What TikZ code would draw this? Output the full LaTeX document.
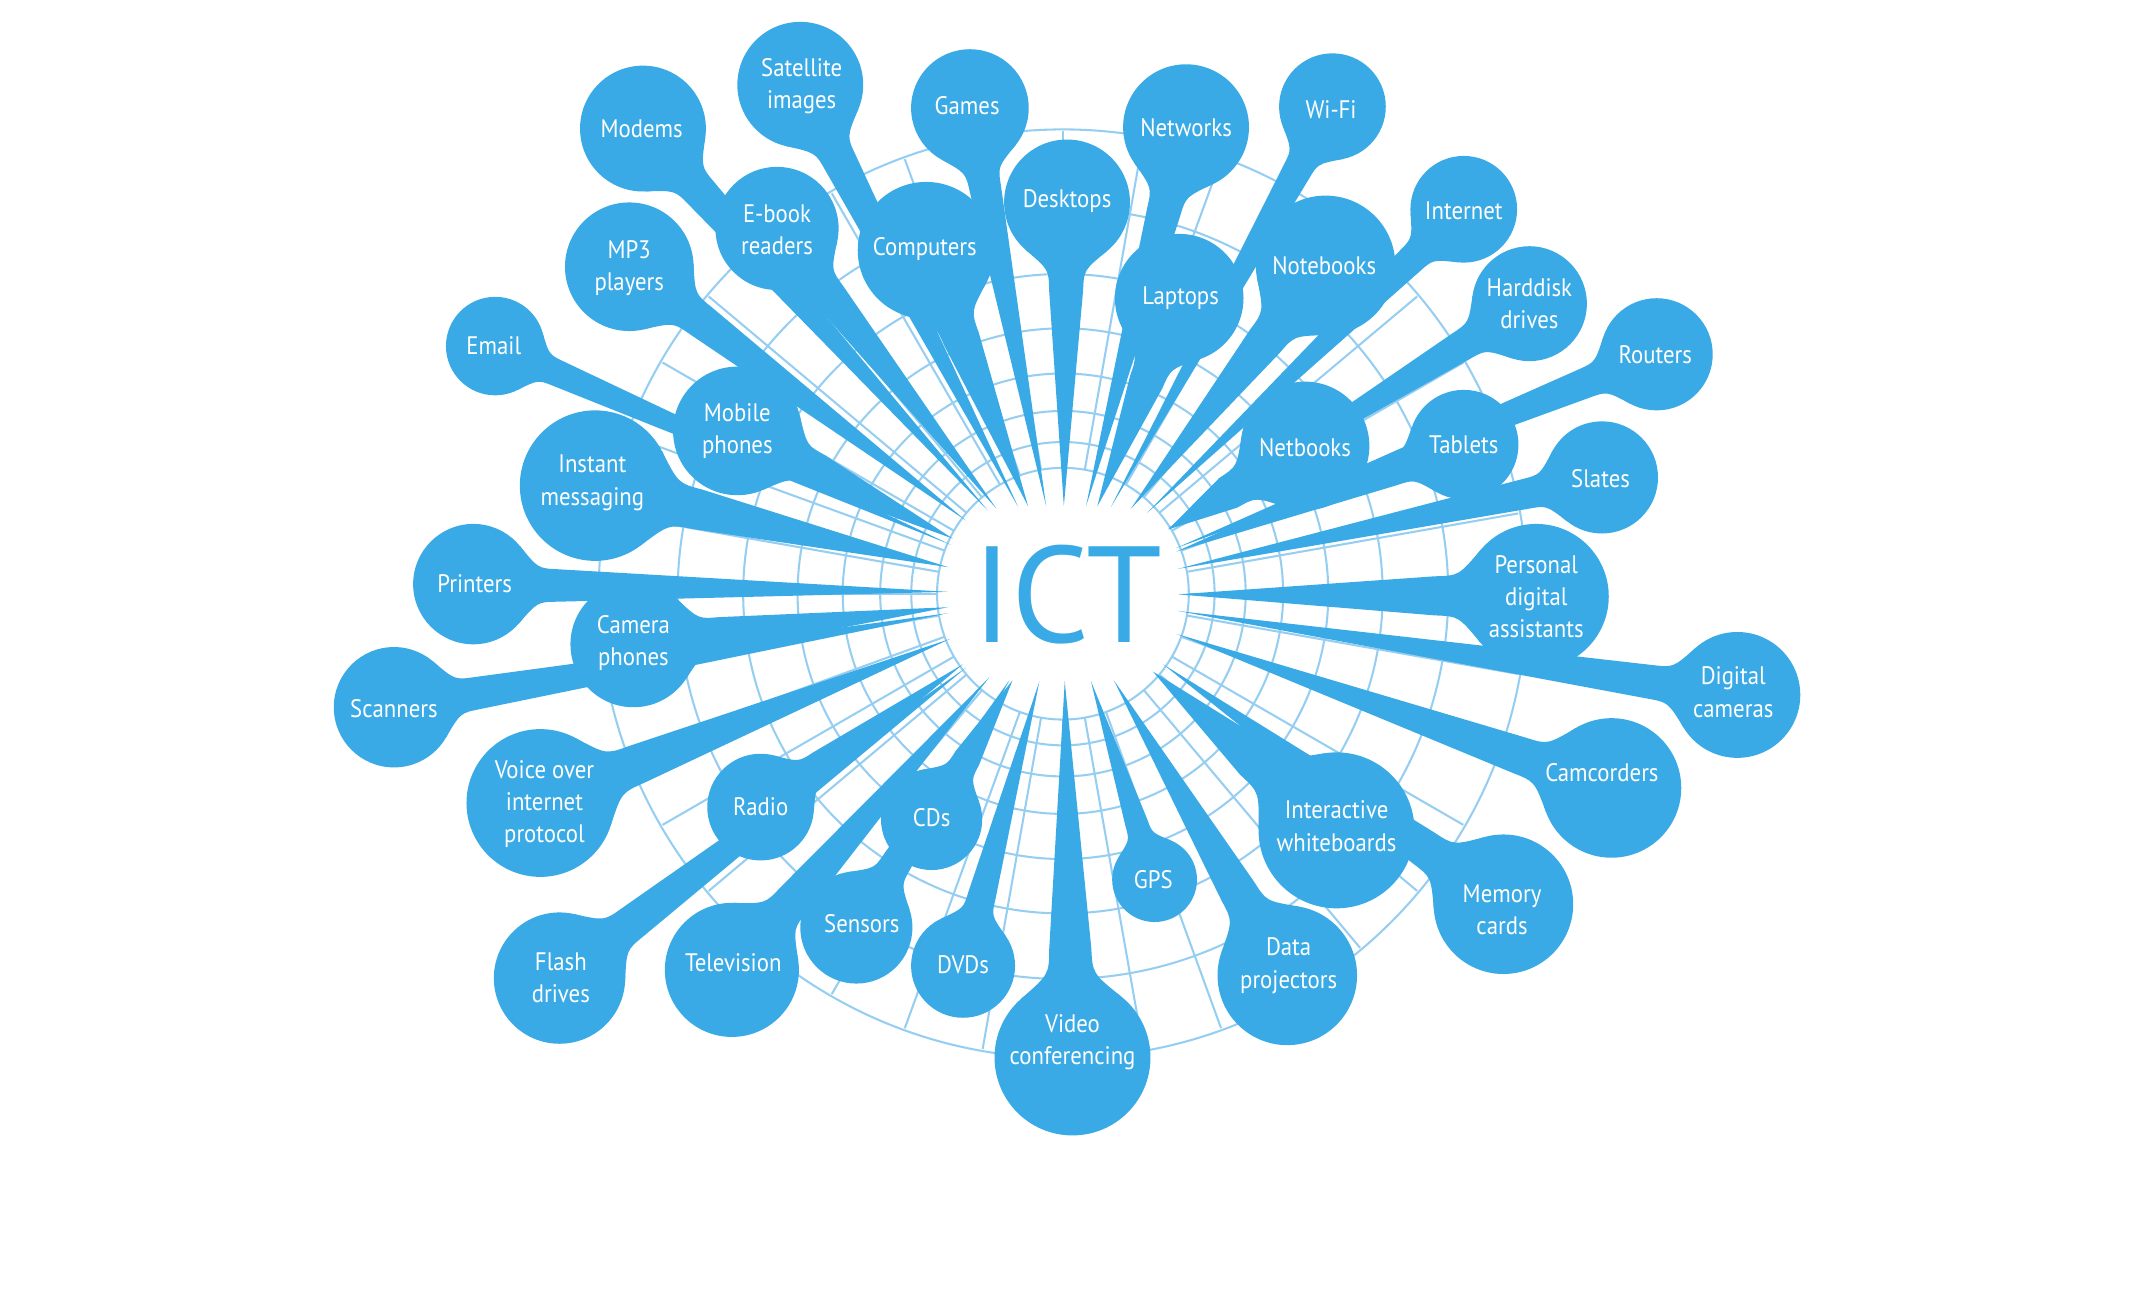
\documentclass[tikz,border=0pt]{standalone}
\usepackage{fontspec}
\setmainfont{PT Sans}
\newfontfamily\lblfont{PT Sans}[FakeStretch=0.9]
\usetikzlibrary{calc}
\definecolor{ictblue}{RGB}{58,170,230}
\definecolor{gridblue}{RGB}{150,206,242}
\pgfdeclarelayer{gridlayer}
\pgfdeclarelayer{spikelayer}
\pgfdeclarelayer{labellayer}
\pgfsetlayers{gridlayer,spikelayer,main,labellayer}
\tikzset{
  bubble/.style={circle, fill=ictblue, inner sep=0pt, outer sep=0pt},
  lbl/.style={text=white, align=center, inner sep=0pt, font=\lblfont\fontsize{18.5}{23.5}\selectfont},
  gridline/.style={draw=gridblue, line width=1.5pt},
  spikefill/.style={fill=ictblue},
  ictlabel/.style={text=ictblue, inner sep=0pt, font=\fontsize{100}{100}\selectfont}
}
\newcommand\spike[2]{%
  \pgfmathanglebetweenpoints{\pgfpointanchor{O}{center}}{\pgfpointanchor{#1}{center}}%
  \pgfmathsetmacro\spkang{\pgfmathresult}%
  \pgfmathsetmacro\spkrt{84/((abs(cos(\spkang)))^4+2.97*(abs(sin(\spkang)))^4)^0.25}%
  \pgfmathsetmacro\spka{#2}%
  \pgfmathsetmacro\spkb{1.107*#2}%
  \pgfmathsetmacro\spkc{1.426*#2}%
  \coordinate (#1-t) at ($(O)!\spkrt pt!(#1.center)$);%
  \begin{pgfonlayer}{spikelayer}%
  \fill[spikefill] ($(#1.center)!\spka pt!40:(#1-t)$) .. controls ($(#1.center)!\spkb pt!14.65:(#1-t)$) .. ($(#1.center)!\spkc pt!10.9:(#1-t)$) -- (#1-t) -- ($(#1.center)!\spkc pt!-10.9:(#1-t)$) .. controls ($(#1.center)!\spkb pt!-14.65:(#1-t)$) .. ($(#1.center)!\spka pt!-40:(#1-t)$) -- cycle;%
  \end{pgfonlayer}%
}
\newcommand\bub[7]{%
  \node[bubble, minimum size=#4*2pt] (#1) at (#2,{950-#3}) {};%
  \begin{pgfonlayer}{labellayer}%
  \node[lbl] (#1-l) at (#5,{950-#6}) {#7};%
  \end{pgfonlayer}%
  \spike{#1}{#4}%
}
\begin{document}
\begin{tikzpicture}[x=1pt,y=1pt]
\useasboundingbox (0,0) rectangle (1568,950);
\coordinate (O) at (777,516);
% background and polar grid
\begin{pgfonlayer}{gridlayer}
\fill[white] (0,0) rectangle (1568,950);
\foreach \k in {0,...,7}{
  \pgfmathsetmacro\rr{92*1.205^\k}
  \draw[gridline] (O) circle [radius=\rr pt];
}
\foreach \a in {0,10,...,350}{
  \draw[gridline] ($(O)+(\a:92pt)$) -- ($(O)+(\a:338pt)$);
}
\end{pgfonlayer}
\node[ictlabel] (ict) at (780,515) {ICT};
% bubbles: name, x, y(down), r, label x, label y(down), text
\bub{mod}{470}{94}{46}{469}{94}{Modems}
\bub{sat}{585}{62}{46}{586}{63}{Satellite\\images}
\bub{gam}{709}{79}{43}{707}{77}{Games}
\bub{net}{867}{93}{46}{867}{93}{Networks}
\bub{wif}{974}{78}{39}{973}{80}{Wi-Fi}
\bub{ebk}{568}{167}{45}{568}{168}{E-book\\readers}
\bub{cmp}{677}{183}{50}{676}{182}{Computers}
\bub{dsk}{780}{148}{46}{780}{147}{Desktops}
\bub{lap}{862}{218}{47}{863}{218}{Laptops}
\bub{ntb}{969}{194}{51}{968}{194}{Notebooks}
\bub{int}{1070}{153}{39}{1070}{154}{Internet}
\bub{hdd}{1118}{222}{42}{1118}{222}{Harddisk\\drives}
\bub{rou}{1211}{259}{41}{1210}{259}{Routers}
\bub{mpt}{460}{195}{47}{460}{196}{MP3\\players}
\bub{eml}{362}{253}{36}{361}{253}{Email}
\bub{mob}{539}{315}{47}{539}{315}{Mobile\\phones}
\bub{ims}{435}{355}{55}{433}{353}{Instant\\messaging}
\bub{nbk}{954}{326}{47}{954}{327}{Netbooks}
\bub{tab}{1070}{325}{40}{1070}{325}{Tablets}
\bub{sla}{1171}{349}{41}{1170}{350}{Slates}
\bub{pda}{1123}{436}{53}{1123}{436}{Personal\\digital\\assistants}
\bub{prn}{346}{427}{44}{347}{427}{Printers}
\bub{cph}{463}{471}{46}{463}{470}{Camera\\phones}
\bub{scn}{288}{517}{44}{288}{518}{Scanners}
\bub{dca}{1270}{508}{46}{1267}{506}{Digital\\cameras}
\bub{ccd}{1178}{576}{51}{1171}{565}{Camcorders}
\bub{voi}{395}{587}{54}{398}{588}{Voice over\\internet\\protocol}
\bub{rad}{556}{590}{39}{556}{590}{Radio}
\bub{cds}{681}{599}{37}{681}{598}{CDs}
\bub{gps}{844}{643}{31}{843}{643}{GPS}
\bub{iwb}{977}{607}{57}{977}{604}{Interactive\\whiteboards}
\bub{mem}{1099}{661}{51}{1098}{665}{Memory\\cards}
\bub{sen}{626}{678}{41}{630}{675}{Sensors}
\bub{tel}{535}{709}{49}{536}{704}{Television}
\bub{fla}{409}{715}{48}{410}{715}{Flash\\drives}
\bub{dvd}{704}{706}{38}{704}{705}{DVDs}
\bub{dat}{941}{713}{51}{942}{706}{Data\\projectors}
\bub{vid}{784}{773}{57}{784}{762}{Video\\conferencing}
\end{tikzpicture}
\end{document}
